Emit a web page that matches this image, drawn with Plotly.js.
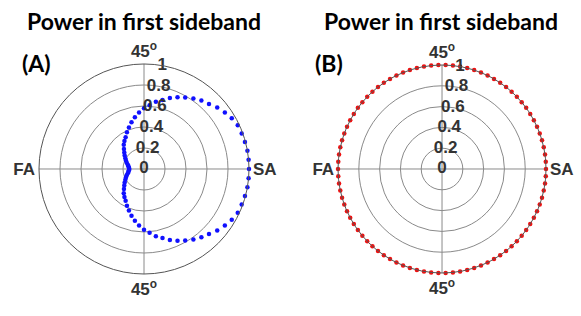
<!DOCTYPE html>
<html>
<head>
<meta charset="utf-8">
<script src="https://cdn.plot.ly/plotly-3.0.1.min.js"></script>
<style>html,body{margin:0;padding:0;background:#fff;}#chart{width:581px;height:316px;}</style>
</head>
<body>
<div id="chart"></div>
<script>
// ---- data ----
var thetaA = [0,5,10,15,20,25,30,35,40,45,50,55,60,65,70,75,80,85,90,95,100,105,110,115,120,125,130,135,140,145,150,155,160,165,170,175,
              180,185,190,195,200,205,210,215,220,225,230,235,240,245,250,255,260,265,270,275,280,285,290,295,300,305,310,315,320,325,330,335,340,345,350,355];
var powerA = [1.00,1.00,1.00,0.995,0.99,0.985,0.965,0.94,0.91,0.875,0.85,0.82,0.785,0.755,0.72,0.68,0.65,0.61,0.578,0.54,0.50,0.46,0.42,0.385,0.35,0.325,0.30,0.27,0.245,0.225,0.205,0.19,0.175,0.16,0.15,0.145,
              0.14,0.145,0.15,0.16,0.175,0.19,0.205,0.225,0.245,0.27,0.30,0.325,0.35,0.385,0.42,0.46,0.50,0.54,0.578,0.61,0.65,0.68,0.72,0.755,0.785,0.82,0.85,0.875,0.91,0.94,0.965,0.985,0.99,0.995,1.00,1.00];
var thetaB = [0,4,8,12,16,20,24,28,32,36,40,44,48,52,56,60,64,68,72,76,80,84,88,92,96,100,104,108,112,116,120,124,128,132,136,140,144,148,152,156,160,164,168,172,176,
              180,184,188,192,196,200,204,208,212,216,220,224,228,232,236,240,244,248,252,256,260,264,268,272,276,280,284,288,292,296,300,304,308,312,316,320,324,328,332,336,340,344,348,352,356];
var powerB = [1,1,1,1,1,1,1,1,1,1,1,1,1,1,1,1,1,1,1,1,1,1,1,1,1,1,1,1,1,1,1,1,1,1,1,1,1,1,1,1,1,1,1,1,1,
              1,1,1,1,1,1,1,1,1,1,1,1,1,1,1,1,1,1,1,1,1,1,1,1,1,1,1,1,1,1,1,1,1,1,1,1,1,1,1,1,1,1,1,1,1];
var radialTicks = [0, 0.2, 0.4, 0.6, 0.8, 1];
var radialTickText = ['0', '0.2', '0.4', '0.6', '0.8', '1'];
var labelAngle = 80;
var angleTickVals = [0, 90, 180, 270];
var angleTickText = ['SA', '45<sup>o</sup>', 'FA', '45<sup>o</sup>'];
var titleText = 'Power in first sideband';
var panelLabels = ['(A)', '(B)'];

// ---- traces ----
function tickTrace(sub) {
  return {
    type: 'scatterpolar', subplot: sub, mode: 'text',
    r: radialTicks, theta: radialTicks.map(function(){return labelAngle;}),
    text: radialTickText, textposition: 'middle center', cliponaxis: false,
    textfont: {family: 'Liberation Sans', size: 17, color: '#333', weight: 'bold'},
    hoverinfo: 'skip'
  };
}
var data = [
  {type: 'scatterpolar', subplot: 'polar', mode: 'markers', r: powerA, theta: thetaA,
   marker: {color: '#1010ff', size: 4.5}, cliponaxis: false},
  tickTrace('polar'),
  {type: 'scatterpolar', subplot: 'polar2', mode: 'markers', r: powerB, theta: thetaB,
   marker: {color: '#ee1111', size: 4.5}, cliponaxis: false},
  tickTrace('polar2')
];

function polarCfg(dx, dy) {
  return {
    domain: {x: dx, y: dy},
    bgcolor: '#fff',
    radialaxis: {range: [0, 1], tickvals: [0.2, 0.4, 0.6, 0.8, 1], showticklabels: false, ticks: '',
                 showline: false, gridcolor: '#8a8a8a', gridwidth: 1},
    angularaxis: {rotation: 0, direction: 'counterclockwise', tickvals: angleTickVals, ticktext: angleTickText,
                  ticks: '', showline: true, linecolor: '#555', linewidth: 1, gridcolor: '#8a8a8a', gridwidth: 1,
                  tickfont: {family: 'Liberation Sans', size: 17, color: '#333', weight: 'bold'}}
  };
}

var layout = {
  width: 581, height: 316,
  margin: {l: 0, r: 0, t: 0, b: 0},
  paper_bgcolor: '#fff',
  showlegend: false,
  polar: polarCfg([0.0671, 0.4286], [0.1329, 0.7975]),
  polar2: polarCfg([0.5818, 0.9398], [0.1361, 0.7943]),
  annotations: [
    {text: '<b>' + titleText + '</b>', x: 0.2478, y: 0.935, xref: 'paper', yref: 'paper', xanchor: 'center', yanchor: 'middle',
     showarrow: false, font: {family: 'Lato', size: 23, color: '#000'}},
    {text: '<b>' + titleText + '</b>', x: 0.759, y: 0.935, xref: 'paper', yref: 'paper', xanchor: 'center', yanchor: 'middle',
     showarrow: false, font: {family: 'Lato', size: 23, color: '#000'}},
    {text: '<b>' + panelLabels[0] + '</b>', x: 0.034, y: 0.80, xref: 'paper', yref: 'paper', xanchor: 'left', yanchor: 'middle',
     showarrow: false, font: {family: 'Lato', size: 23, color: '#000'}},
    {text: '<b>' + panelLabels[1] + '</b>', x: 0.538, y: 0.80, xref: 'paper', yref: 'paper', xanchor: 'left', yanchor: 'middle',
     showarrow: false, font: {family: 'Lato', size: 23, color: '#000'}}
  ]
};

Plotly.newPlot('chart', data, layout, {staticPlot: true, displayModeBar: false});
</script>
</body>
</html>
